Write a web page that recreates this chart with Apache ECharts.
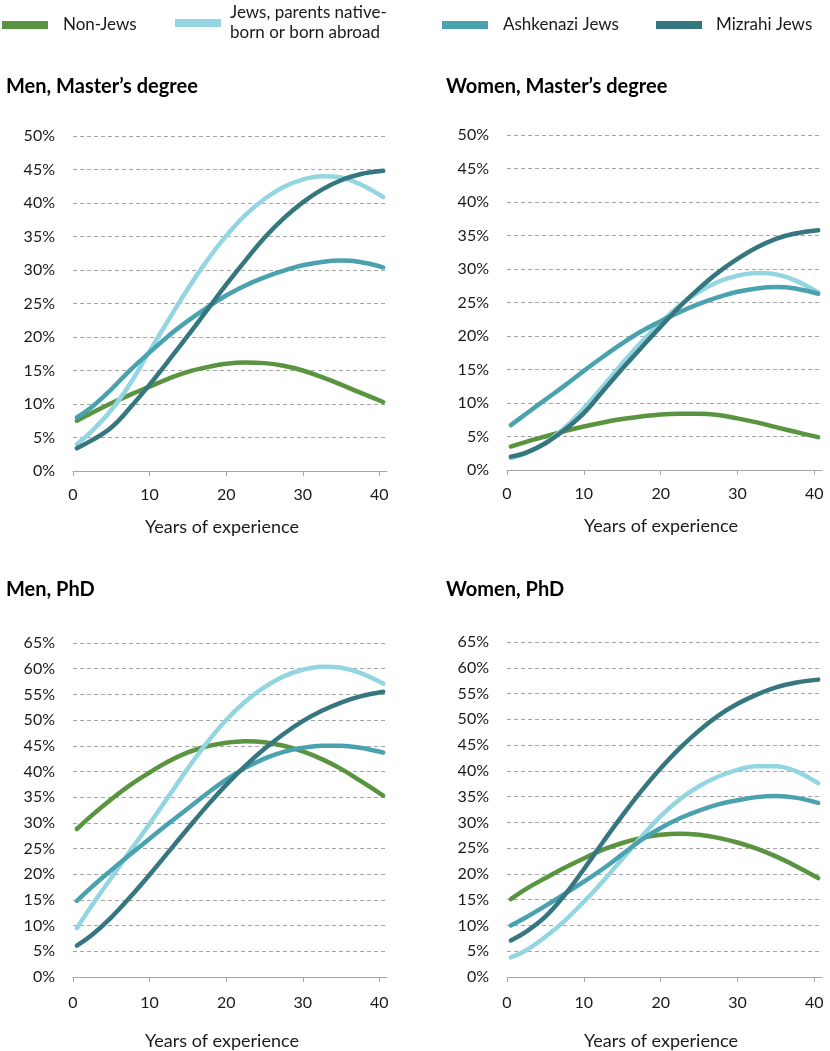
<!DOCTYPE html>
<html><head><meta charset="utf-8">
<script src="https://cdn.jsdelivr.net/npm/echarts@6/dist/echarts.min.js"></script>
<style>html,body{margin:0;padding:0;background:#fff}#c{width:830px;height:1051px}</style>
</head><body><div id="c"></div>
<script>
// Years of experience (x positions of the sampled points)
const years = [0.5, 2.5, 5, 7.5, 10, 12.5, 15, 17.5, 20, 22.5, 25, 27.5, 30, 32.5, 35, 37.5, 40.5];
const seriesNames = ['Non-Jews', 'Jews, parents native-\nborn or born abroad', 'Ashkenazi Jews', 'Mizrahi Jews'];
const panelTitles = ['Men, Master\u2019s degree', 'Women, Master\u2019s degree', 'Men, PhD', 'Women, PhD'];
const xTicks = [0, 10, 20, 30, 40];
const xAxisTitle = 'Years of experience';

// Men, Master's degree (%)
const mmNonJews = [7.5, 8.7, 10.1, 11.4, 12.6, 13.8, 14.8, 15.5, 16.0, 16.2, 16.1, 15.7, 15.0, 14.0, 12.9, 11.7, 10.3];
const mmNative  = [4.0, 6.0, 9.1, 13.1, 17.9, 22.6, 27.2, 31.4, 35.1, 38.2, 40.6, 42.4, 43.5, 44.0, 43.8, 42.8, 40.9];
const mmAsh     = [8.0, 9.6, 12.2, 15.1, 17.7, 20.2, 22.4, 24.4, 26.2, 27.7, 28.9, 29.9, 30.7, 31.2, 31.4, 31.2, 30.4];
const mmMiz     = [3.4, 4.6, 6.5, 9.5, 12.9, 16.5, 20.2, 24.0, 27.8, 31.4, 34.8, 37.7, 40.1, 42.0, 43.4, 44.3, 44.8];
// Women, Master's degree (%)
const wmNonJews = [3.5, 4.2, 5.0, 5.8, 6.5, 7.1, 7.6, 8.0, 8.3, 8.4, 8.4, 8.2, 7.7, 7.1, 6.4, 5.7, 4.9];
const wmNative  = [1.8, 2.5, 4.0, 6.3, 9.2, 12.5, 15.9, 19.1, 22.0, 24.6, 26.6, 28.1, 29.0, 29.4, 29.2, 28.3, 26.5];
const wmAsh     = [6.7, 8.4, 10.5, 12.6, 14.8, 16.9, 18.9, 20.7, 22.2, 23.6, 24.8, 25.8, 26.6, 27.1, 27.3, 27.1, 26.3];
const wmMiz     = [2.0, 2.6, 4.0, 6.0, 8.5, 11.8, 15.1, 18.3, 21.4, 24.4, 27.1, 29.5, 31.5, 33.2, 34.5, 35.3, 35.8];
// Men, PhD (%)
const mpNonJews = [28.8, 31.5, 34.6, 37.4, 39.8, 42.0, 43.7, 44.9, 45.6, 45.9, 45.7, 45.0, 43.9, 42.4, 40.5, 38.2, 35.3];
const mpNative  = [9.5, 14.0, 19.3, 24.6, 29.8, 35.2, 40.6, 45.6, 50.0, 53.6, 56.4, 58.5, 59.8, 60.4, 60.2, 59.2, 57.1];
const mpAsh     = [14.8, 17.6, 20.8, 23.9, 26.9, 29.9, 32.8, 35.7, 38.4, 40.7, 42.5, 43.8, 44.6, 45.0, 45.0, 44.6, 43.7];
const mpMiz     = [6.1, 8.2, 11.6, 15.6, 19.9, 24.4, 28.9, 33.3, 37.4, 41.1, 44.4, 47.3, 49.8, 51.8, 53.4, 54.6, 55.5];
// Women, PhD (%)
const wpNonJews = [15.1, 17.1, 19.2, 21.2, 23.0, 24.7, 26.0, 27.0, 27.6, 27.8, 27.6, 27.0, 26.1, 24.9, 23.4, 21.6, 19.2];
const wpNative  = [3.8, 5.2, 7.8, 10.9, 14.6, 18.6, 22.9, 27.2, 31.2, 34.5, 37.0, 38.9, 40.2, 40.9, 40.9, 40.0, 37.6];
const wpAsh     = [10.0, 11.6, 13.8, 16.1, 18.5, 21.0, 23.8, 26.6, 28.9, 30.8, 32.3, 33.5, 34.3, 34.9, 35.1, 34.8, 33.8];
const wpMiz     = [7.1, 8.8, 11.7, 15.9, 20.9, 26.2, 31.3, 36.1, 40.5, 44.4, 47.8, 50.7, 53.0, 54.8, 56.2, 57.1, 57.7];

const yMax = [50, 50, 65, 65];
const panels = [
  [mmNonJews, mmNative, mmAsh, mmMiz],
  [wmNonJews, wmNative, wmAsh, wmMiz],
  [mpNonJews, mpNative, mpAsh, mpMiz],
  [wpNonJews, wpNative, wpAsh, wpMiz]
];

const colors = ['#5a9440', '#93d6e1', '#4aa2ae', '#36777f'];
const FONT = 'Lato, "Open Sans", sans-serif';
const TXT = '#1a1a1a';

const gridsPos = [
  {left: 73, top: 136, width: 314, height: 335},
  {left: 507, top: 135, width: 315, height: 335},
  {left: 73, top: 643, width: 314, height: 335},
  {left: 507, top: 642, width: 315, height: 335}
];
const titlePos = [[6, 77], [446, 77], [6, 580], [446, 580]];
const nameShift = [16, 7];
const nameGaps = [47, 47, 55, 55];
const labelMargins = [16, 16, 18, 18];

const option = {
  animation: false,
  backgroundColor: '#fff',
  textStyle: {fontFamily: FONT},
  title: panelTitles.map((t, i) => ({
    text: t, left: titlePos[i][0], top: titlePos[i][1], padding: 0,
    textStyle: {fontFamily: FONT, fontSize: 20, fontWeight: 'bold', color: '#000'}
  })),
  legend: [
    {left: 2, top: 15, gap: 10},
    {left: 175, top: 3, gap: 4},
    {left: 442, top: 15, gap: 10},
    {left: 656, top: 15, gap: 9}
  ].map((p, i) => ({
    left: p.left, top: p.top, padding: 0, orient: 'horizontal',
    data: [seriesNames[i]], icon: 'rect', itemWidth: 46, itemHeight: 8,
    selectedMode: false,
    textStyle: {fontFamily: FONT, fontSize: 17, color: TXT, padding: [0, 0, 0, p.gap], lineHeight: 20}
  })),
  grid: gridsPos,
  xAxis: gridsPos.map((g, i) => ({
    type: 'value', gridIndex: i, min: 0, max: 41, interval: 10,
    axisLine: {show: true, lineStyle: {color: '#a6a6a6', width: 1}},
    axisTick: {show: true, length: 5, lineStyle: {color: '#a6a6a6'}},
    splitLine: {show: false},
    axisLabel: {fontFamily: FONT, fontSize: 16, color: TXT, margin: labelMargins[i], showMaxLabel: false,
      formatter: v => xTicks.indexOf(v) >= 0 ? String(v) : ''},
    name: xAxisTitle,
    nameLocation: 'middle', nameGap: nameGaps[i],
    nameTextStyle: {fontFamily: FONT, fontSize: 18, color: TXT, padding: [0, nameShift[i % 2], 0, 0]}
  })),
  yAxis: gridsPos.map((g, i) => ({
    type: 'value', gridIndex: i, min: 0, max: yMax[i], interval: 5,
    axisLine: {show: false}, axisTick: {show: false},
    splitLine: {show: true, lineStyle: {color: '#a6a6a6', type: [4, 3], width: 1}},
    axisLabel: {fontFamily: FONT, fontSize: 16, color: TXT, margin: 18, formatter: '{value}%'}
  })),
  series: []
};

panels.forEach((arrs, pi) => {
  arrs.forEach((vals, si) => {
    option.series.push({
      name: seriesNames[si], type: 'line', xAxisIndex: pi, yAxisIndex: pi,
      data: years.map((x, k) => [x, vals[k]]),
      smooth: 0.4, showSymbol: false, symbol: 'none',
      color: colors[si],
      lineStyle: {color: colors[si], width: 4.5, cap: 'round', join: 'round'},
      z: 2 + si
    });
  });
});

const chart = echarts.init(document.getElementById('c'), null, {renderer: 'canvas'});
chart.setOption(option);
</script>
</body></html>
